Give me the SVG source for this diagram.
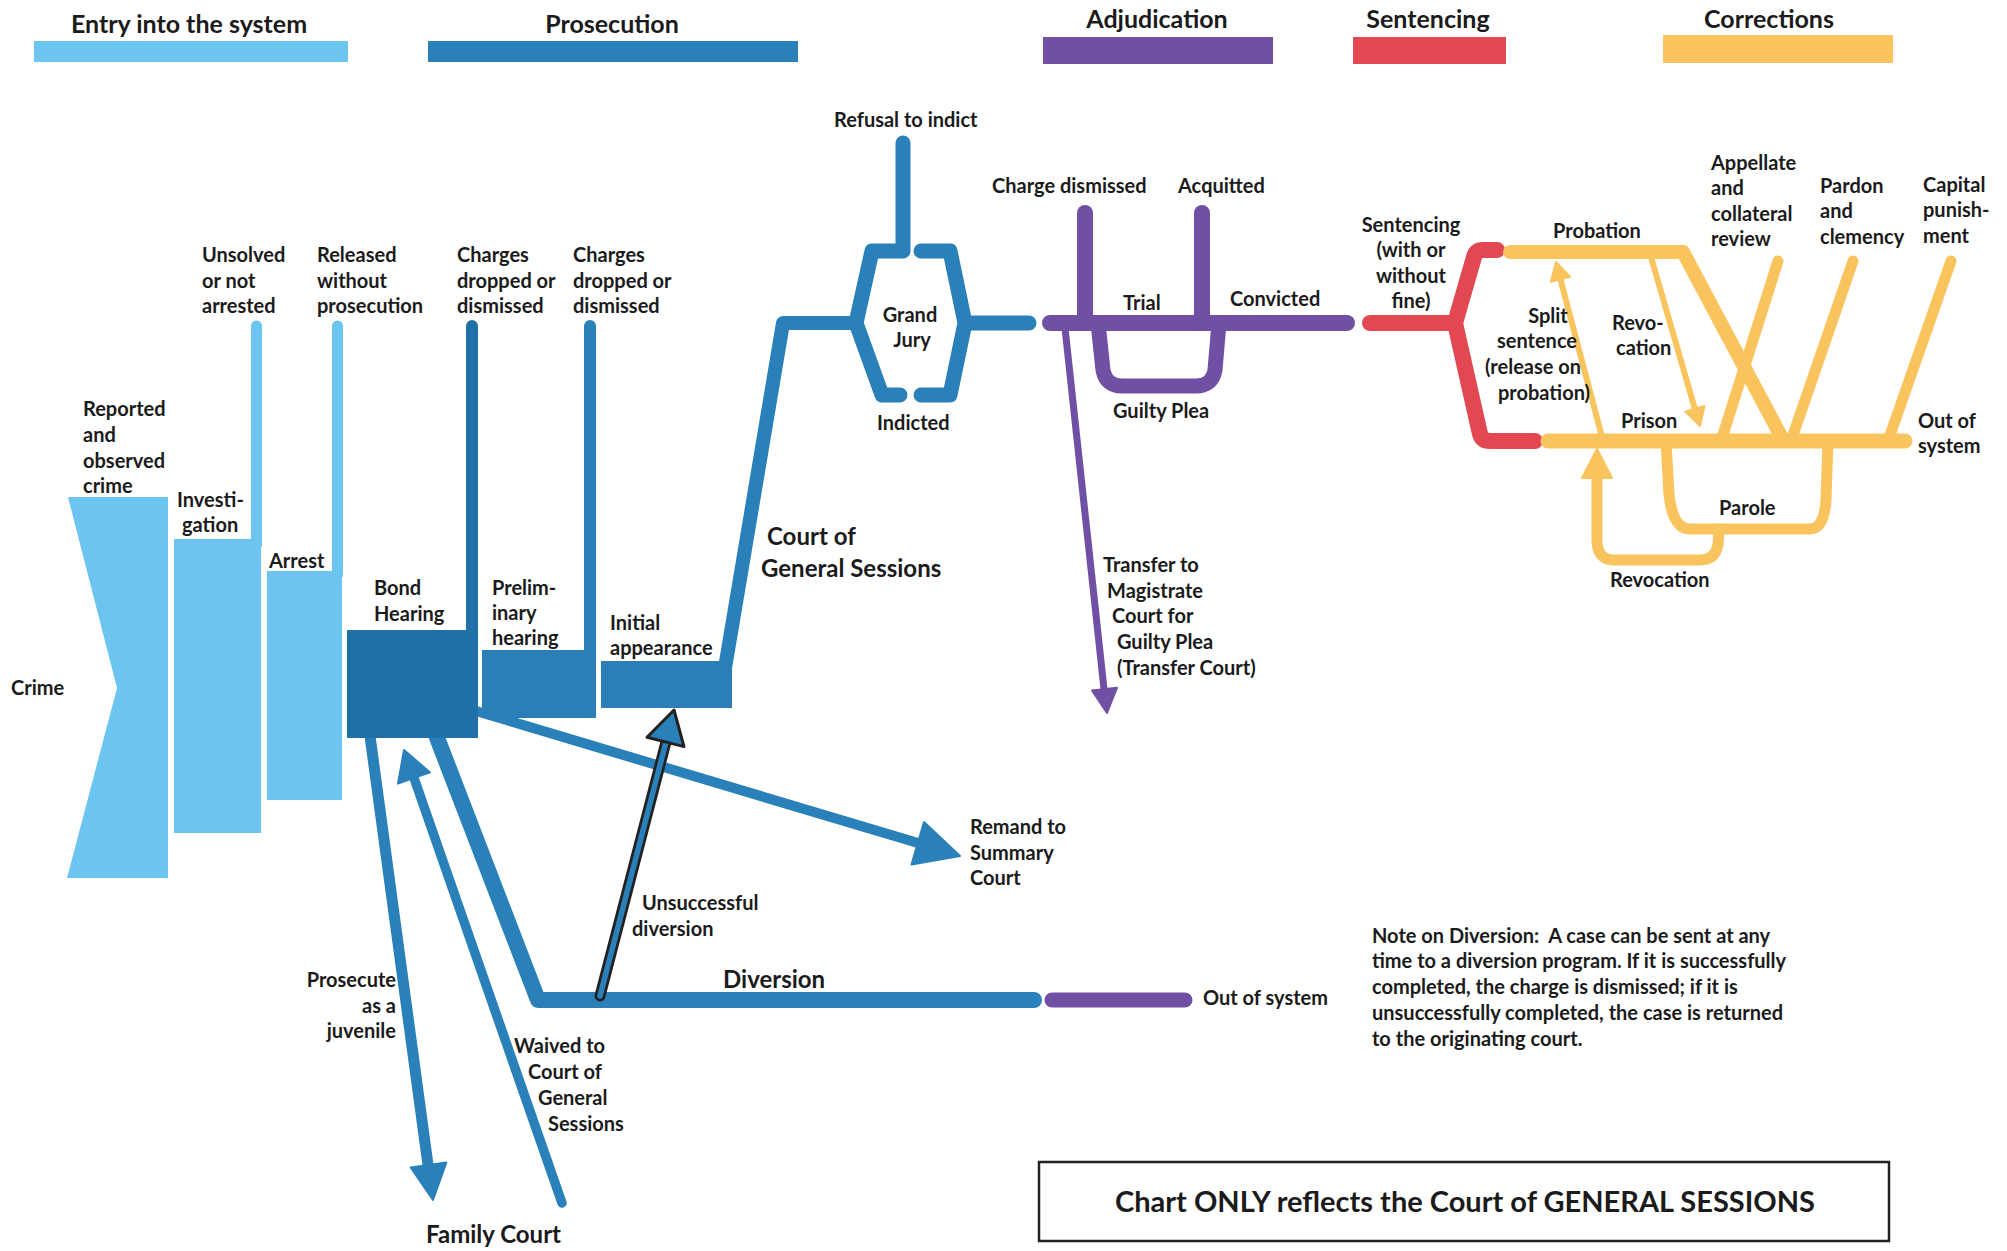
<svg xmlns="http://www.w3.org/2000/svg" width="2007" height="1251" viewBox="0 0 2007 1251">
<style>
.t{font-family:Lato,"Liberation Sans",sans-serif;font-weight:700;font-size:20px;fill:#1b1b1b}
.h{font-size:24px}
.hd{font-size:25px}
.n{font-size:20px}
.big{font-size:29px}
.c{text-anchor:middle}
.e{text-anchor:end}
.ln{fill:none;stroke-linecap:round;stroke-linejoin:round}
.lb{stroke:#6cc5f0}
.db{stroke:#2a80b9}
.dd{stroke:#2171a8}
.pu{stroke:#7050a5}
.rd{stroke:#e24852}
.ye{stroke:#f9c45e}
</style>
<rect width="2007" height="1251" fill="#ffffff"/>

<g id="legend">
<rect x="34" y="41" width="314" height="21" fill="#6cc5f0"/>
<text class="t hd c" x="189" y="33">Entry into the system</text>
<rect x="428" y="41" width="370" height="21" fill="#2a80b9"/>
<text class="t hd c" x="612" y="33">Prosecution</text>
<rect x="1043" y="37" width="230" height="27" fill="#7050a5"/>
<text class="t hd c" x="1157" y="28">Adjudication</text>
<rect x="1353" y="37" width="153" height="27" fill="#e24852"/>
<text class="t hd c" x="1428" y="28">Sentencing</text>
<rect x="1663" y="35" width="230" height="28" fill="#f9c45e"/>
<text class="t hd c" x="1769" y="28">Corrections</text>
</g>

<g id="connectors">
<!-- bond hearing to diversion -->
<path class="ln db" d="M436,735 L538,1000 H1034" stroke-width="16"/>
<path class="ln pu" d="M1052,1000 H1185" stroke-width="15"/>
<!-- remand -->
<path class="ln db" d="M476,711 L918,843" stroke-width="10" stroke-linecap="butt"/>
<polygon points="960,856 924,822 911.5,864.5" fill="#2a80b9" stroke="#2a80b9" stroke-width="2" stroke-linejoin="round"/>
<!-- juvenile -->
<path class="ln db" d="M370,736 L428,1165" stroke-width="11" stroke-linecap="butt"/>
<polygon points="433,1200 410.7,1167.4 446.3,1162.6" fill="#2a80b9" stroke="#2a80b9" stroke-width="2" stroke-linejoin="round"/>
<!-- waived -->
<path class="ln db" d="M562,1203 L414,778" stroke-width="9.5"/>
<polygon points="404,750 430,772.4 398,783.6" fill="#2a80b9" stroke="#2a80b9" stroke-width="2" stroke-linejoin="round"/>
<!-- unsuccessful diversion -->
<path class="ln" d="M600,996 L666,742" stroke="#222" stroke-width="11" stroke-linecap="butt"/>
<path class="ln db" d="M600,996 L666,742" stroke-width="5.5" stroke-linecap="butt"/>
<polygon points="674,710 684,746.6 647,737.2" fill="#2a80b9" stroke="#222" stroke-width="3" stroke-linejoin="round"/>
<!-- initial appearance to grand jury -->
<path class="ln db" d="M725,668 L783,323 H856" stroke-width="14" stroke-linecap="butt"/>
<!-- grand jury -->
<path class="ln db" d="M903,143 V251 H872 L856,323 L882,395 H900" stroke-width="15"/>
<path class="ln db" d="M921,251 H950 L965,323 L950,395 H921" stroke-width="15"/>
<path class="ln db" d="M965,323 H1029" stroke-width="15"/>
<!-- adjudication -->
<path class="ln pu" d="M1050,323 H1347" stroke-width="16"/>
<path class="ln pu" d="M1085,213 V323" stroke-width="16"/>
<path class="ln pu" d="M1202,213 V323" stroke-width="16"/>
<path class="ln pu" d="M1098,323 L1103,370 Q1106,386 1122,386 H1196 Q1212,386 1215,370 L1219,323" stroke-width="15"/>
<path class="ln pu" d="M1065,328 L1104,689" stroke-width="7" stroke-linecap="butt"/>
<polygon points="1107,713 1117,687.7 1092,690.5" fill="#7050a5" stroke="#7050a5" stroke-width="2" stroke-linejoin="round"/>
<!-- sentencing -->
<path class="ln rd" d="M1370,323 H1455" stroke-width="16"/>
<path class="ln rd" d="M1455,323 L1474,257 Q1476,250 1483,250 H1497" stroke-width="16"/>
<path class="ln rd" d="M1455,323 L1480,434 Q1482,441 1490,441 H1535" stroke-width="16"/>
<!-- corrections -->
<path class="ln ye" d="M1510,252 H1683 L1782,438" stroke-width="14"/>
<path class="ln ye" d="M1548,441 H1905" stroke-width="15"/>
<path class="ln ye" d="M1722,438 L1778,261" stroke-width="11"/>
<path class="ln ye" d="M1853,261 L1792,438" stroke-width="11"/>
<path class="ln ye" d="M1951,261 L1889,438" stroke-width="11"/>
<path class="ln ye" d="M1602,437 L1560.5,279.4" stroke-width="6" stroke-linecap="butt"/>
<polygon points="1556,262 1570.2,276.9 1550.8,281.9" fill="#f9c45e" stroke="#f9c45e" stroke-width="2" stroke-linejoin="round"/>
<path class="ln ye" d="M1651,257 L1694.9,408.8" stroke-width="6" stroke-linecap="butt"/>
<polygon points="1700,426 1704.5,406 1685.3,411.6" fill="#f9c45e" stroke="#f9c45e" stroke-width="2" stroke-linejoin="round"/>
<path class="ln ye" d="M1666,441 L1669,495 Q1673,529 1690,529 H1810 Q1824,529 1826,500 L1828,441" stroke-width="11"/>
<path class="ln ye" d="M1719,529 L1718,545 Q1715,560 1700,560 H1614 Q1598,560 1597,542 L1597,476" stroke-width="11" stroke-linecap="butt"/>
<polygon points="1597,449 1612,478 1582,478" fill="#f9c45e" stroke="#f9c45e" stroke-width="2" stroke-linejoin="round"/>
</g>

<g id="crime">
<polygon points="68,497 168,497 168,878 67,878 117,688" fill="#6cc5f0"/>
<text class="t" x="11" y="695">Crime</text>
<text class="t" x="83" y="416">Reported</text>
<text class="t" x="83" y="442">and</text>
<text class="t" x="83" y="468">observed</text>
<text class="t" x="83" y="493">crime</text>
</g>

<g id="investigation">
<rect x="174" y="539" width="87" height="294" fill="#6cc5f0"/>
<path class="ln lb" d="M256.5,326 V545" stroke-width="11"/>
<text class="t" x="177" y="507">Investi-</text>
<text class="t" x="182" y="532">gation</text>
<text class="t" x="202" y="262">Unsolved</text>
<text class="t" x="202" y="288">or not</text>
<text class="t" x="202" y="313">arrested</text>
</g>

<g id="arrest">
<rect x="267" y="571" width="75" height="229" fill="#6cc5f0"/>
<path class="ln lb" d="M337.5,326 V575" stroke-width="11"/>
<text class="t" x="269" y="568">Arrest</text>
<text class="t" x="317" y="262">Released</text>
<text class="t" x="317" y="288">without</text>
<text class="t" x="317" y="313">prosecution</text>
</g>

<g id="bond-hearing">
<rect x="347" y="630" width="131" height="108" fill="#1f70a7"/>
<path class="ln dd" d="M472,326 V635" stroke-width="12"/>
<text class="t" x="374" y="595">Bond</text>
<text class="t" x="374" y="621">Hearing</text>
<text class="t" x="457" y="262">Charges</text>
<text class="t" x="457" y="288">dropped or</text>
<text class="t" x="457" y="313">dismissed</text>
</g>

<g id="preliminary-hearing">
<rect x="482" y="650" width="114" height="68" fill="#2a7fb8"/>
<path class="ln db" d="M590,326 V655" stroke-width="12"/>
<text class="t" x="492" y="595">Prelim-</text>
<text class="t" x="492" y="620">inary</text>
<text class="t" x="492" y="645">hearing</text>
<text class="t" x="573" y="262">Charges</text>
<text class="t" x="573" y="288">dropped or</text>
<text class="t" x="573" y="313">dismissed</text>
</g>

<g id="initial-appearance">
<rect x="601" y="661" width="131" height="47" fill="#2a7fb8"/>
<text class="t" x="610" y="630">Initial</text>
<text class="t" x="610" y="655">appearance</text>
<text class="t h" x="767" y="545">Court of</text>
<text class="t h" x="761" y="577">General Sessions</text>
</g>

<g id="grand-jury">
<text class="t c" x="910" y="322">Grand</text>
<text class="t c" x="912" y="347">Jury</text>
<text class="t" x="834" y="127">Refusal to indict</text>
<text class="t" x="877" y="430">Indicted</text>
</g>

<g id="trial">
<text class="t" x="992" y="193">Charge dismissed</text>
<text class="t" x="1178" y="193">Acquitted</text>
<text class="t" x="1123" y="310">Trial</text>
<text class="t" x="1230" y="306">Convicted</text>
<text class="t" x="1113" y="418">Guilty Plea</text>
</g>

<g id="transfer-court">
<text class="t" x="1103" y="572">Transfer to</text>
<text class="t" x="1107" y="598">Magistrate</text>
<text class="t" x="1112" y="623">Court for</text>
<text class="t" x="1117" y="649">Guilty Plea</text>
<text class="t" x="1117" y="675">(Transfer Court)</text>
</g>

<g id="sentencing">
<text class="t c" x="1411" y="232">Sentencing</text>
<text class="t c" x="1411" y="257">(with or</text>
<text class="t c" x="1411" y="283">without</text>
<text class="t c" x="1411" y="308">fine)</text>
</g>

<g id="probation">
<text class="t" x="1553" y="238">Probation</text>
<text class="t c" x="1548" y="323">Split</text>
<text class="t c" x="1537" y="348">sentence</text>
<text class="t c" x="1533" y="374">(release on</text>
<text class="t c" x="1544" y="400">probation)</text>
<text class="t" x="1612" y="330">Revo-</text>
<text class="t" x="1616" y="355">cation</text>
</g>

<g id="prison">
<text class="t" x="1621" y="428">Prison</text>
<text class="t" x="1719" y="515">Parole</text>
<text class="t" x="1610" y="587">Revocation</text>
<text class="t" x="1918" y="428">Out of</text>
<text class="t" x="1918" y="453">system</text>
</g>

<g id="exits">
<text class="t" x="1711" y="170">Appellate</text>
<text class="t" x="1711" y="195">and</text>
<text class="t" x="1711" y="221">collateral</text>
<text class="t" x="1711" y="246">review</text>
<text class="t" x="1820" y="193">Pardon</text>
<text class="t" x="1820" y="218">and</text>
<text class="t" x="1820" y="244">clemency</text>
<text class="t" x="1923" y="192">Capital</text>
<text class="t" x="1923" y="217">punish-</text>
<text class="t" x="1923" y="243">ment</text>
</g>

<g id="remand">
<text class="t" x="970" y="834">Remand to</text>
<text class="t" x="970" y="860">Summary</text>
<text class="t" x="970" y="885">Court</text>
</g>

<g id="diversion">
<text class="t h" x="723" y="988">Diversion</text>
<text class="t" x="642" y="910">Unsuccessful</text>
<text class="t" x="632" y="936">diversion</text>
<text class="t" x="1203" y="1005">Out of system</text>
</g>

<g id="family-court">
<text class="t e" x="396" y="987">Prosecute</text>
<text class="t e" x="396" y="1013">as a</text>
<text class="t e" x="396" y="1038">juvenile</text>
<text class="t" x="514" y="1053">Waived to</text>
<text class="t" x="528" y="1079">Court of</text>
<text class="t" x="538" y="1105">General</text>
<text class="t" x="548" y="1131">Sessions</text>
<text class="t h" x="426" y="1243">Family Court</text>
</g>

<g id="note">
<text class="t n" x="1372" y="943">Note on Diversion:&#160; A case can be sent at any</text>
<text class="t n" x="1372" y="968">time to a diversion program. If it is successfully</text>
<text class="t n" x="1372" y="994">completed, the charge is dismissed; if it is</text>
<text class="t n" x="1372" y="1020">unsuccessfully completed, the case is returned</text>
<text class="t n" x="1372" y="1046">to the originating court.</text>
</g>

<g id="scope-box">
<rect x="1039" y="1162" width="850" height="79" fill="none" stroke="#222" stroke-width="2.5"/>
<text class="t big c" x="1465" y="1212">Chart ONLY reflects the Court of GENERAL SESSIONS</text>
</g>
</svg>
